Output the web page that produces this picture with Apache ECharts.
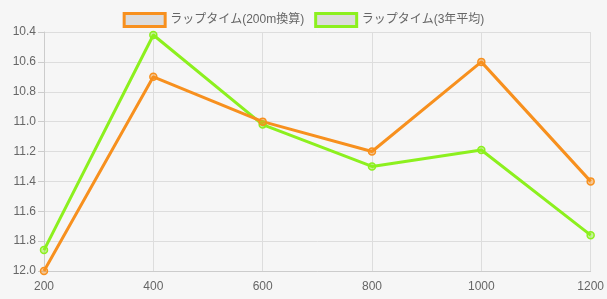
<!DOCTYPE html>
<html><head><meta charset="utf-8">
<script src="https://cdn.jsdelivr.net/npm/echarts@6/dist/echarts.min.js"></script>
<style>html,body{margin:0;padding:0;background:#f6f6f6;}#c{width:607px;height:299px;}</style>
</head><body><div id="c"></div>
<script>
const distances = ['200','400','600','800','1000','1200'];
const lap200 = [12.0, 10.7, 11.0, 11.2, 10.6, 11.4];
const lap3yr = [11.86, 10.42, 11.02, 11.3, 11.19, 11.76];
const seriesNames = ['ラップタイム(200m換算)', 'ラップタイム(3年平均)'];
const colors = ['#f7901e', '#8cf01e'];
const fills = ['rgba(247,144,30,0.45)', 'rgba(140,240,30,0.45)'];

const chart = echarts.init(document.getElementById('c'));
const font = '"Liberation Sans", "Noto Sans CJK JP", sans-serif';
chart.setOption({
  backgroundColor: '#f6f6f6',
  animation: false,
  textStyle: {fontFamily: font},
  legend: {
    top: 7, left: 'center',
    itemWidth: 41, itemHeight: 13, itemGap: 10,
    icon: 'rect',
    textStyle: {color: '#666', fontSize: 12, fontFamily: font},
    data: seriesNames.map((n, i) => ({name: n, itemStyle: {color: '#dcdcdc', borderColor: colors[i], borderWidth: 3}}))
  },
  grid: {left: 44, right: 15, top: 32, bottom: 28, containLabel: false},
  xAxis: {
    type: 'category', boundaryGap: false, data: distances,
    axisLine: {lineStyle: {color: '#ccc'}},
    axisTick: {show: false},
    axisLabel: {color: '#666', fontSize: 12, margin: 10, fontFamily: font},
    splitLine: {show: true, lineStyle: {color: '#ddd'}}
  },
  yAxis: {
    type: 'value', inverse: true, min: 10.4, max: 12.0, interval: 0.2,
    axisLine: {show: true, lineStyle: {color: '#ccc'}},
    axisTick: {show: true, length: 6, lineStyle: {color: '#ccc'}},
    axisLabel: {color: '#666', fontSize: 12, margin: 8, fontFamily: font, formatter: v => v.toFixed(1)},
    splitLine: {show: true, lineStyle: {color: '#ddd'}}
  },
  series: [lap200, lap3yr].map((d, i) => ({
    name: seriesNames[i], type: 'line', data: d,
    lineStyle: {color: colors[i], width: 3},
    itemStyle: {color: fills[i], borderColor: colors[i], borderWidth: 1.5},
    symbol: 'circle', symbolSize: 7,
    emphasis: {disabled: true}
  })).reverse()
});
</script></body></html>
